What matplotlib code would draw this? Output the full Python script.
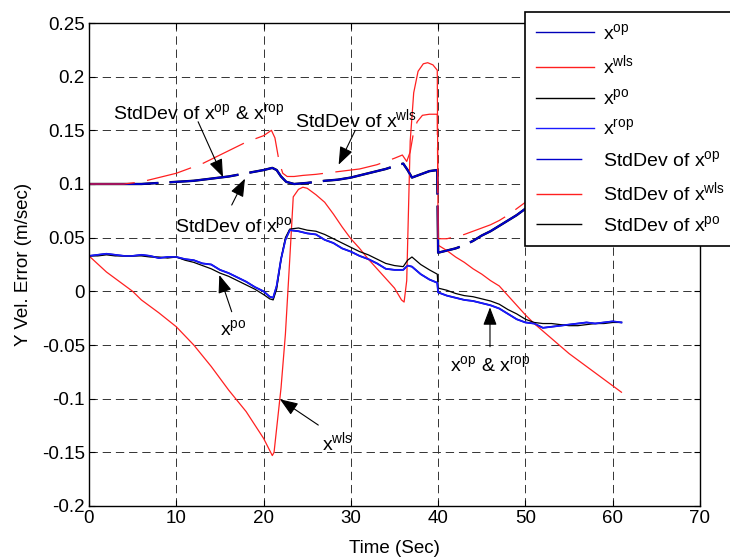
import matplotlib
matplotlib.use('Agg')
import matplotlib.pyplot as plt

plt.rcParams['font.family'] = ['Liberation Sans', 'DejaVu Sans']
plt.rcParams['mathtext.default'] = 'regular'
plt.rcParams['lines.scale_dashes'] = False

# estimates x^op / x^rop (blue) and x^po (black)
t_est = [0, 1, 2, 3, 4, 5, 6, 7, 8, 9, 10, 11, 12, 13, 14, 15, 16, 17, 18, 19, 20,
         20.7, 21.1, 21.5, 22, 22.5, 23, 24, 25, 26, 27, 28, 29, 30, 31, 32, 33, 34,
         35, 36, 36.5, 37, 38, 39, 39.9, 40.0, 41, 42, 43, 44, 45, 46, 47, 48, 49,
         50, 51, 52, 53, 54, 55, 56, 57, 58, 59, 60, 61]
x_op = [0.033, 0.034, 0.035, 0.034, 0.033, 0.033, 0.034, 0.033, 0.031, 0.032, 0.032,
        0.030, 0.029, 0.026, 0.025, 0.020, 0.017, 0.013, 0.009, 0.004, 0.000,
        -0.005, -0.006, 0.005, 0.030, 0.048, 0.057, 0.056, 0.054, 0.053, 0.048,
        0.045, 0.040, 0.037, 0.033, 0.030, 0.026, 0.021, 0.020, 0.020, 0.024,
        0.023, 0.016, 0.011, 0.008, -0.001, -0.004, -0.006, -0.008, -0.009, -0.011,
        -0.013, -0.016, -0.021, -0.026, -0.029, -0.030, -0.034, -0.033, -0.032,
        -0.031, -0.030, -0.029, -0.030, -0.029, -0.028, -0.029]
x_rop = x_op
x_po = [0.033, 0.033, 0.034, 0.033, 0.033, 0.033, 0.033, 0.032, 0.032, 0.031, 0.032,
        0.029, 0.027, 0.024, 0.021, 0.017, 0.014, 0.010, 0.006, 0.002, -0.003,
        -0.007, -0.008, 0.002, 0.030, 0.050, 0.058, 0.059, 0.057, 0.056, 0.053,
        0.049, 0.045, 0.041, 0.037, 0.034, 0.030, 0.026, 0.024, 0.023, 0.029,
        0.032, 0.025, 0.020, 0.016, 0.003, 0.001, -0.002, -0.004, -0.005, -0.007,
        -0.009, -0.012, -0.017, -0.021, -0.026, -0.029, -0.030, -0.030, -0.031,
        -0.032, -0.032, -0.031, -0.030, -0.030, -0.029, -0.029]

# weighted least squares estimate (red)
t_wls = [0, 2, 4, 5, 6, 8, 10, 12, 14, 16, 18, 20, 21, 21.2, 21.6, 22, 22.5, 23,
         23.4, 24, 24.5, 25, 26, 27, 28, 29, 30, 31, 32, 33, 34, 35, 35.8, 36.1,
         36.4, 36.8, 37.2, 37.7, 38.3, 38.8, 39.4, 39.9, 40.0, 41, 42, 43, 44, 45,
         46, 47, 48, 49, 50, 51, 52, 53, 54, 55, 56, 57, 58, 59, 60, 61]
x_wls = [0.033, 0.018, 0.006, 0.000, -0.008, -0.020, -0.033, -0.050, -0.070, -0.092,
         -0.112, -0.137, -0.153, -0.150, -0.120, -0.090, -0.040, 0.030, 0.088, 0.095,
         0.097, 0.096, 0.090, 0.083, 0.072, 0.060, 0.049, 0.040, 0.030, 0.021, 0.012,
         0.003, -0.008, -0.010, 0.010, 0.140, 0.185, 0.205, 0.212, 0.213, 0.211,
         0.206, 0.043, 0.038, 0.032, 0.027, 0.021, 0.016, 0.010, 0.005, -0.004,
         -0.013, -0.022, -0.030, -0.037, -0.044, -0.051, -0.058, -0.064, -0.070,
         -0.076, -0.082, -0.088, -0.094]

# standard deviations
t_sw = [0, 2, 4, 5, 6, 7, 8, 9, 10, 11, 12, 13, 14, 15, 16, 17, 18, 19, 20, 20.9,
        21.3, 21.8, 22.2, 22.7, 23.5, 24.5, 26, 27, 28, 29, 30, 31, 32, 33, 34, 35,
        35.9, 36.4, 36.8, 37.2, 37.6, 38.2, 39, 39.9, 40.0, 41, 42, 43, 44, 45, 46,
        47, 48, 49, 50, 52, 54, 56, 58, 60, 61]
std_wls = [0.100, 0.100, 0.100, 0.101, 0.102, 0.104, 0.106, 0.108, 0.110, 0.113,
           0.116, 0.119, 0.123, 0.127, 0.131, 0.135, 0.139, 0.142, 0.145, 0.150,
           0.143, 0.120, 0.110, 0.107, 0.107, 0.108, 0.109, 0.110, 0.111, 0.112,
           0.113, 0.114, 0.116, 0.118, 0.121, 0.124, 0.127, 0.121, 0.130, 0.149,
           0.158, 0.164, 0.165, 0.165, 0.049, 0.049, 0.051, 0.053, 0.056, 0.059,
           0.062, 0.066, 0.071, 0.077, 0.083, 0.095, 0.108, 0.122, 0.136, 0.150, 0.157]
t_so = [0, 4, 6, 8, 10, 12, 14, 16, 18, 20, 21, 21.5, 22, 22.6, 23.5, 25, 27, 28.5,
        30, 32, 34, 35.5, 36, 36.5, 37, 38, 39, 39.9, 40.0, 41, 42, 43, 44, 45, 46,
        47, 48, 49, 50, 52, 54, 56, 58, 60, 61]
std_op = [0.100, 0.100, 0.100, 0.101, 0.102, 0.103, 0.105, 0.107, 0.110, 0.113,
          0.115, 0.113, 0.107, 0.102, 0.100, 0.101, 0.103, 0.104, 0.106, 0.110,
          0.114, 0.118, 0.119, 0.113, 0.106, 0.109, 0.112, 0.113, 0.036, 0.038,
          0.040, 0.043, 0.047, 0.052, 0.056, 0.061, 0.066, 0.071, 0.077, 0.088,
          0.100, 0.112, 0.124, 0.136, 0.142]
std_po = std_op

fig = plt.figure(figsize=(7.3, 5.58), dpi=100)
ax = fig.add_axes([89 / 730, 52 / 558, 611 / 730, 483 / 558])

ax.plot(t_est, x_op, color='#0000b8', lw=1.3, label='$x^{op}$')
ax.plot(t_wls, x_wls, color='#ff2020', lw=0.9, label='$x^{wls}$')
ax.plot(t_est, x_po, color='k', lw=0.9, label='$x^{po}$')
ax.plot(t_est, x_rop, color='#1a1aff', lw=1.1, label='$x^{rop}$')
ax.plot(t_so, std_po, color='k', lw=1.7, dashes=(50, 8), zorder=1.9)
ax.plot(t_so, std_op, color='#0000cc', lw=1.4, dashes=(50, 8),
        label='StdDev of $x^{op}$')
ax.plot(t_sw, std_wls, color='#ff2020', lw=0.9, dashes=(33, 9),
        label='StdDev of $x^{wls}$')
ax.plot([], [], color='k', lw=0.9, dashes=(33, 9), label='StdDev of $x^{po}$')

ax.set_xlim(0, 70)
ax.set_ylim(-0.2, 0.25)
ax.set_xticks(range(0, 71, 10))
ax.set_yticks([-0.2, -0.15, -0.1, -0.05, 0, 0.05, 0.1, 0.15, 0.2, 0.25])
ax.set_yticklabels(['-0.2', '-0.15', '-0.1', '-0.05', '0', '0.05', '0.1',
                    '0.15', '0.2', '0.25'])
ax.tick_params(direction='in', top=True, right=True, length=4, labelsize=13.5,
               pad=3)
ax.grid(True, color='#333333', lw=0.7, linestyle=(0, (6, 3.5)))
for s in ax.spines.values():
    s.set_linewidth(1.0)
ax.set_xlabel('Time (Sec)', fontsize=13.5, labelpad=9)
ax.set_ylabel('Y Vel. Error (m/sec)', fontsize=13.5, labelpad=7)

# labels with arrows
arw = dict(arrowstyle='-|>,head_length=1.1,head_width=0.42', color='k', lw=0.8,
           shrinkA=0, shrinkB=0)
notes = [
    ('StdDev of $x^{op}$ & $x^{rop}$', (2.75, 0.160), (12.5, 0.158), (15.35, 0.1065)),
    ('StdDev of $x^{wls}$', (23.6, 0.153), (30.5, 0.150), (28.6, 0.118)),
    ('StdDev of $x^{po}$', (9.85, 0.0556), (16.35, 0.0804), (17.87, 0.105)),
    ('$x^{po}$', (15.0, -0.0407), (16.35, -0.019), (14.93, 0.0152)),
    ('$x^{wls}$', (26.65, -0.148), (26.27, -0.1246), (21.88, -0.1006)),
    ('$x^{op}$ & $x^{rop}$', (41.36, -0.075), (45.94, -0.0516), (45.94, -0.0149)),
]
for txt, pos, tail, head in notes:
    ax.text(pos[0], pos[1], txt, fontsize=14, ha='left', va='baseline')
    ax.annotate('', xy=head, xytext=tail, arrowprops=arw, annotation_clip=False)

leg = fig.legend(loc='upper left', bbox_to_anchor=(525 / 730, 1 - 12 / 558),
                 borderaxespad=0, fontsize=14, frameon=True, fancybox=False,
                 edgecolor='k', framealpha=1, handlelength=3.0, handletextpad=0.45,
                 labelspacing=0.56, borderpad=0.55)
leg.get_frame().set_linewidth(1.2)
for i, h in enumerate(leg.get_lines()):
    h.set_linewidth(1.0)
    if i >= 4:
        h.set_dashes((33, 9))

fig.savefig('out.png', dpi=100)
